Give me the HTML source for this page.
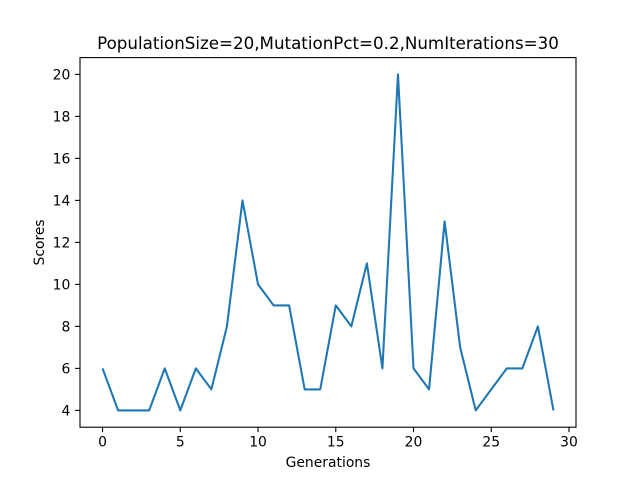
<!DOCTYPE html>
<html><head><meta charset="utf-8"><style>
body{margin:0;background:#fff;}
svg{display:block;font-family:"DejaVu Sans","Liberation Sans",sans-serif;}
</style></head><body>
<svg id="chart" width="640" height="480">
<rect width="640" height="480" fill="#fff"/>
<g id="ticks"></g>
<path id="line" fill="none" stroke="#1f77b4" stroke-width="2.08" stroke-linejoin="round"/>
<rect x="80" y="57.6" width="496" height="369.6" fill="none" stroke="#000" stroke-width="1.1"/>
<text x="328" y="49" text-anchor="middle" font-size="16.7">PopulationSize=20,MutationPct=0.2,NumIterations=30</text>
<text x="328" y="467" text-anchor="middle" font-size="13.9">Generations</text>
<text x="44" y="242.4" text-anchor="middle" font-size="13.9" transform="rotate(-90 44 242.4)">Scores</text>
</svg>
<script>
const generations=[0,1,2,3,4,5,6,7,8,9,10,11,12,13,14,15,16,17,18,19,20,21,22,23,24,25,26,27,28,29];
const scores=[6,4,4,4,6,4,6,5,8,14,10,9,9,5,5,9,8,11,6,20,6,5,13,7,4,5,6,6,8,4];
const xTicks=[0,5,10,15,20,25,30];
const yTicks=[4,6,8,10,12,14,16,18,20];
const L=80,R=576,T=57.6,B=427.2;
const xmin=-1.45,xmax=30.45,ymin=3.2,ymax=20.8;
const sx=v=>L+(v-xmin)/(xmax-xmin)*(R-L);
const sy=v=>B-(v-ymin)/(ymax-ymin)*(B-T);
const NS="http://www.w3.org/2000/svg";
const g=document.getElementById('ticks');
function mk(tag,attrs,txt){const e=document.createElementNS(NS,tag);for(const k in attrs)e.setAttribute(k,attrs[k]);if(txt!==undefined)e.textContent=txt;g.appendChild(e);return e;}
xTicks.forEach(t=>{
 const l=mk('line',{x1:sx(t),x2:sx(t),y1:B,y2:B+4.9,stroke:'#000','stroke-width':1.1});
 
 
 const s=mk('text',{x:sx(t),y:B+19.5,'text-anchor':'middle','font-size':13.9},t);
 
 
});
yTicks.forEach(t=>{
 const l=mk('line',{x1:L-4.9,x2:L,y1:sy(t),y2:sy(t),stroke:'#000','stroke-width':1.1});
 
 
 const s=mk('text',{x:L-9.7,y:sy(t)+5,'text-anchor':'end','font-size':13.9},t);
 
 
});
document.getElementById('line').setAttribute('d',generations.map((x,i)=>(i?'L':'M')+sx(x)+','+sy(scores[i])).join(''));
</script>
</body></html>
